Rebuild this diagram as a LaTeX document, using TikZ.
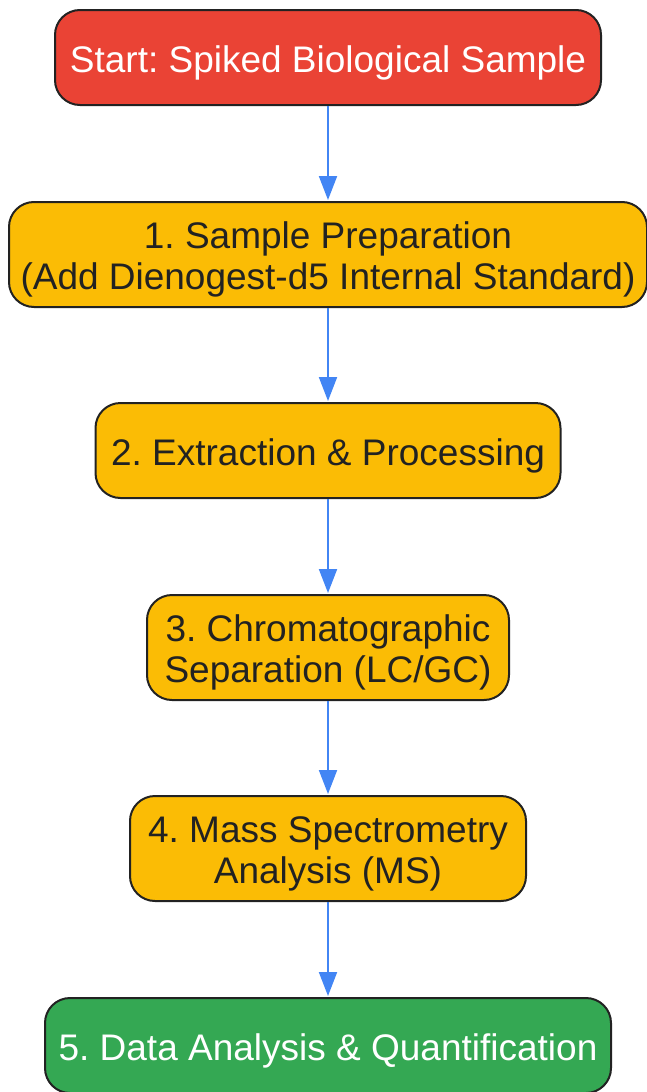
\documentclass[tikz,border=0pt]{standalone}
\usepackage{fontspec}
\setmainfont{Liberation Sans}
\usetikzlibrary{arrows.meta}
\definecolor{gred}{HTML}{EA4335}
\definecolor{gyel}{HTML}{FBBC05}
\definecolor{ggrn}{HTML}{34A853}
\definecolor{gblue}{HTML}{4285F4}
\definecolor{bord}{HTML}{222222}
\definecolor{txt}{HTML}{222222}
\newcommand{\topstrut}{\rule{0pt}{37pt}}
\begin{document}
\frenchspacing
\begin{tikzpicture}[x=1pt,y=-1pt,
  box/.style={draw=bord,line width=2pt,rounded corners=25pt,align=center,
    font=\fontsize{37}{41}\selectfont,inner sep=0pt,text=txt,anchor=center},
  flow/.style={draw=gblue,line width=2pt,-{Triangle[length=24pt,width=18pt]},shorten >=1pt}]
\useasboundingbox (0,0) rectangle (647,1092);
\node[box,fill=gred,text=white,minimum width=546pt,minimum height=95pt] (s) at (328,57.5) {\topstrut Start: Spiked Biological Sample};
\node[box,fill=gyel,minimum width=638pt,minimum height=105pt] (a) at (328,254.5) {\topstrut 1. Sample Preparation\\(Add Dienogest-d5 Internal Standard)};
\node[box,fill=gyel,minimum width=465pt,minimum height=95pt] (b) at (328,450.5) {\topstrut 2. Extraction \& Processing};
\node[box,fill=gyel,minimum width=362pt,minimum height=105pt] (c) at (328,647.5) {\topstrut 3. Chromatographic\\Separation (LC/GC)};
\node[box,fill=gyel,minimum width=396pt,minimum height=105pt] (d) at (328,848.5) {\topstrut 4. Mass Spectrometry\\Analysis (MS)};
\node[box,fill=ggrn,text=white,minimum width=566pt,minimum height=95pt] (e) at (328,1045.5) {\topstrut 5. Data Analysis \& Quantification};
\draw[flow] (s) -- (a);
\draw[flow] (a) -- (b);
\draw[flow] (b) -- (c);
\draw[flow] (c) -- (d);
\draw[flow] (d) -- (e);
\end{tikzpicture}
\end{document}
